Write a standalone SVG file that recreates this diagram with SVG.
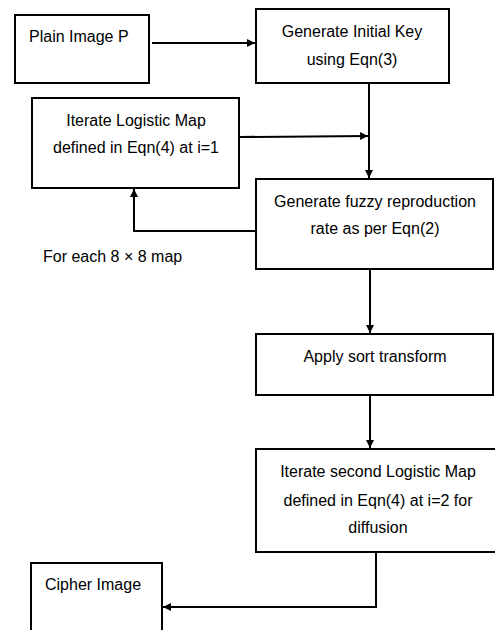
<svg xmlns="http://www.w3.org/2000/svg" width="495" height="630" viewBox="0 0 495 630">
<style>
.box{fill:#fff;stroke:#000;stroke-width:2}
.ln{fill:none;stroke:#000;stroke-width:2}
text{font-family:"Liberation Sans",Arial,sans-serif;font-size:16px;fill:#000}
.c{text-anchor:middle}
</style>
<defs>
<marker id="ah" viewBox="0 0 10 10" refX="10" refY="5" markerWidth="9" markerHeight="8" markerUnits="userSpaceOnUse" orient="auto">
<path d="M0,0 L10,5 L0,10 Z" fill="#000"/>
</marker>
</defs>
<rect width="495" height="630" fill="#fff"/>
<g id="plain"><rect class="box" x="15" y="15" width="134" height="68"/><text x="29" y="42">Plain Image P</text></g>
<g id="initkey"><rect class="box" x="256" y="9" width="193" height="74"/><text class="c" x="352" y="37">Generate Initial Key</text><text class="c" x="352" y="65">using Eqn(3)</text></g>
<g id="logistic1"><rect class="box" x="32" y="98" width="207" height="90"/><text class="c" x="136" y="126">Iterate Logistic Map</text><text class="c" x="136" y="153">defined in Eqn(4) at i=1</text></g>
<g id="fuzzy"><rect class="box" x="256" y="179" width="237" height="90"/><text class="c" x="375" y="207">Generate fuzzy reproduction</text><text class="c" x="375" y="234">rate as per Eqn(2)</text></g>
<g id="loop-label"><text x="43" y="262">For each 8 × 8 map</text></g>
<g id="sort"><rect class="box" x="256" y="334" width="237" height="61"/><text class="c" x="375" y="362">Apply sort transform</text></g>
<g id="logistic2"><rect class="box" x="256" y="449" width="240" height="103"/><text class="c" x="378" y="477">Iterate second Logistic Map</text><text class="c" x="378" y="506">defined in Eqn(4) at i=2 for</text><text class="c" x="378" y="533">diffusion</text></g>
<g id="cipher"><rect class="box" x="31" y="563" width="131" height="80"/><text x="45" y="590">Cipher Image</text></g>
<g id="connectors">
<path class="ln" d="M152,43 L255,43" marker-end="url(#ah)"/>
<path class="ln" d="M369,83 L369,178" marker-end="url(#ah)"/>
<path class="ln" d="M240,137 L368,136" marker-end="url(#ah)"/>
<path class="ln" d="M256,231 L134,231 L134,189" marker-end="url(#ah)"/>
<path class="ln" d="M370,269 L370,333" marker-end="url(#ah)"/>
<path class="ln" d="M370,395 L370,448" marker-end="url(#ah)"/>
<path class="ln" d="M376,552 L376,607 L163,607" marker-end="url(#ah)"/>
</g>
</svg>
